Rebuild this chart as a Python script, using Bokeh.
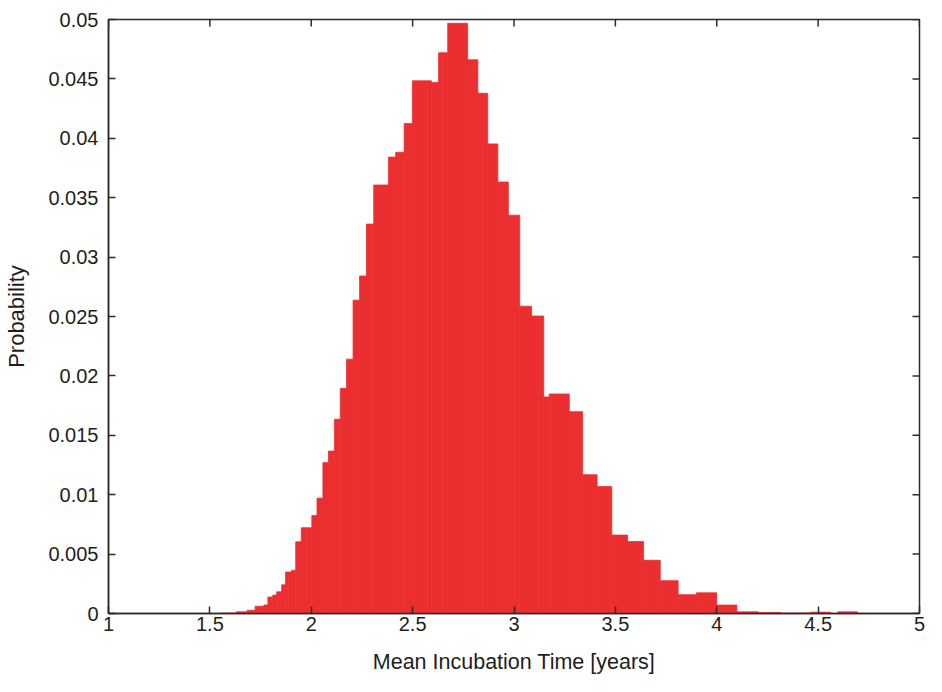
import math
from bokeh.plotting import figure
from bokeh.models import Range1d, FixedTicker, ColumnDataSource
from bokeh.embed import file_html
from bokeh.resources import INLINE

# Histogram bin edges (Mean Incubation Time, years)
bin_edges = [1.5535, 1.631, 1.6843, 1.7231, 1.7667, 1.7861, 1.8104, 1.8297, 1.854, 1.8734,
             1.9024, 1.9233, 1.9509, 2.0028, 2.0284, 2.0575, 2.0851, 2.1142, 2.1433, 2.1738,
             2.2063, 2.2383, 2.2722, 2.3081, 2.3808, 2.4162, 2.4583, 2.4986, 2.5921, 2.628,
             2.673, 2.7714, 2.8218, 2.8703, 2.9202, 2.9721, 3.0283, 3.0865, 3.1466, 3.1737,
             3.2726, 3.3385, 3.4098, 3.4824, 3.56, 3.639, 3.7214, 3.8096, 3.9002, 4.0,
             4.0994, 4.2046, 4.3175, 4.4614, 4.5618, 4.5972, 4.6941]

# Probability of each bin
probability = [0.00003, 0.00014, 0.00027, 0.00061, 0.00072, 0.00139, 0.00155, 0.00183, 0.00241, 0.00349,
               0.00363, 0.00603, 0.00722, 0.00824, 0.00971, 0.0127, 0.01367, 0.01635, 0.01895, 0.02141,
               0.02637, 0.02841, 0.03278, 0.03607, 0.03842, 0.03881, 0.04124, 0.04484, 0.0447, 0.0472,
               0.04968, 0.04661, 0.04379, 0.03953, 0.03632, 0.03353, 0.02587, 0.02504, 0.01823, 0.01848,
               0.01699, 0.01168, 0.01068, 0.0066, 0.00606, 0.00448, 0.00276, 0.00158, 0.00174, 0.00071,
               0.00014, 0.00008, 0.00003, 0.00011, 0.0, 0.00014]

x_ticks = [1, 1.5, 2, 2.5, 3, 3.5, 4, 4.5, 5]
x_tick_labels = ["1", "1.5", "2", "2.5", "3", "3.5", "4", "4.5", "5"]
y_ticks = [0, 0.005, 0.01, 0.015, 0.02, 0.025, 0.03, 0.035, 0.04, 0.045, 0.05]
y_tick_labels = ["0", "0.005", "0.01", "0.015", "0.02", "0.025", "0.03", "0.035", "0.04", "0.045", "0.05"]

x_label = "Mean Incubation Time [years]"
y_label = "Probability"

X_MIN, X_MAX = 1, 5
Y_MIN, Y_MAX = 0, 0.05

BAR_COLOR = "#EB2E30"
AXIS_COLOR = "#2b2b2b"
TEXT_COLOR = "#1e1e1e"
FONT = "Liberation Sans"

src = ColumnDataSource(dict(left=bin_edges[:-1], right=bin_edges[1:], top=probability))

p = figure(width=926, height=676, output_backend="svg", toolbar_location=None,
           x_range=Range1d(X_MIN, X_MAX), y_range=Range1d(Y_MIN, Y_MAX),
           min_border_left=108, min_border_right=7, min_border_top=19, min_border_bottom=62,
           x_axis_label=x_label, y_axis_label=y_label)

p.quad(left="left", right="right", top="top", bottom=0, source=src,
       fill_color=BAR_COLOR, line_color=BAR_COLOR, line_width=0.8)

p.xgrid.visible = False
p.ygrid.visible = False
p.background_fill_color = "white"
p.border_fill_color = "white"
p.outline_line_color = AXIS_COLOR
p.outline_line_width = 1.5
p.outline_line_alpha = 1.0

def style_axis(ax, label_size):
    ax.axis_line_color = AXIS_COLOR
    ax.axis_line_width = 1.5
    ax.major_tick_line_color = AXIS_COLOR
    ax.major_tick_line_width = 1.5
    ax.major_tick_in = 7
    ax.major_tick_out = 0
    ax.minor_tick_line_color = None
    ax.major_label_text_font = FONT
    ax.major_label_text_font_size = "20px"
    ax.major_label_text_color = TEXT_COLOR
    ax.axis_label_text_font = FONT
    ax.axis_label_text_font_size = label_size
    ax.axis_label_text_font_style = "normal"
    ax.axis_label_text_color = TEXT_COLOR

xa = p.xaxis[0]
ya = p.yaxis[0]
style_axis(xa, "21.5px")
style_axis(ya, "22px")
xa.ticker = FixedTicker(ticks=x_ticks)
ya.ticker = FixedTicker(ticks=y_ticks)
xa.major_label_overrides = dict(zip(x_ticks, x_tick_labels))
ya.major_label_overrides = dict(zip(y_ticks, y_tick_labels))
xa.major_label_standoff = 3
xa.axis_label_standoff = 16
ya.major_label_standoff = 10
ya.axis_label_standoff = 16

# mirrored inward ticks on the top and right edges of the frame
p.ray(x=x_ticks, y=[Y_MAX] * len(x_ticks), length=7, length_units="screen",
      angle=-math.pi / 2, line_color=AXIS_COLOR, line_width=1.5)
p.ray(x=[X_MAX] * len(y_ticks), y=y_ticks, length=7, length_units="screen",
      angle=math.pi, line_color=AXIS_COLOR, line_width=1.5)

open("out.html", "w").write(file_html(p, INLINE))
